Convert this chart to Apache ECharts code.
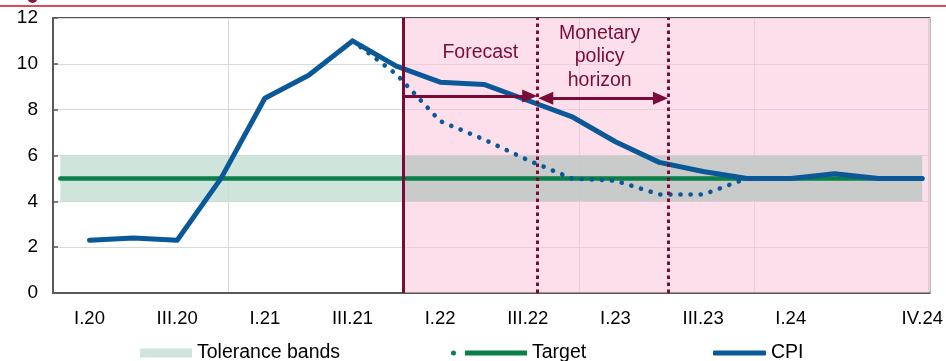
<!DOCTYPE html>
<html>
<head>
<meta charset="utf-8">
<script src="https://cdn.jsdelivr.net/npm/echarts@6/dist/echarts.min.js"></script>
<style>
  html, body { margin: 0; padding: 0; background: #ffffff; }
  #chart { width: 946px; height: 361px; }
</style>
</head>
<body>
<div id="chart"></div>
<script>
// Quarterly observations, placed on a monthly time line (end month of each quarter)
const quarters = ['I.20', 'II.20', 'III.20', 'IV.20',
                  'I.21', 'II.21', 'III.21', 'IV.21',
                  'I.22', 'II.22', 'III.22', 'IV.22',
                  'I.23', 'II.23', 'III.23', 'IV.23',
                  'I.24', 'II.24', 'III.24', 'IV.24'];

// CPI, annual percent change
const cpi = [2.3, 2.4, 2.3, 5.0,
             8.5, 9.5, 11.0, 9.9,
             9.2, 9.1, 8.4, 7.7,
             6.6, 5.7, 5.3, 5.0,
             5.0, 5.2, 5.0, 5.0];

// Earlier projected path (dotted)
const earlierPath = [null, null, null, null,
                     null, null, 11.0, 9.55,
                     7.5, 6.7, 5.8, 5.0,
                     4.9, 4.3, 4.3, 5.0,
                     null, null, null, null];

const targetLevel = 5;
const toleranceLow = 4;
const toleranceHigh = 6;

const tickLabels = ['I.20', 'III.20', 'I.21', 'III.21', 'I.22', 'III.22',
                    'I.23', 'III.23', 'I.24', 'IV.24'];

const forecastFrom = 'I.22';
const horizonFrom = 'IV.22';
const horizonTo = 'III.23';

// Month-based positioning helpers
const monthCount = quarters.length * 3;
const quarterPos = i => i * 3 + 2.5;          // centre of the quarter's last month
const quarterStart = q => quarters.indexOf(q) * 3;

const cpiData = cpi.map((v, i) => [quarterPos(i), v]);
const earlierData = earlierPath.map((v, i) => [quarterPos(i), v]).filter(p => p[1] !== null);
const firstMonth = 0.5, lastMonth = monthCount - 0.5;
const targetData = [[firstMonth, targetLevel], [lastMonth, targetLevel]];

const labelValues = tickLabels.map(l => quarterPos(quarters.indexOf(l)));
const labelByPos = {};
tickLabels.forEach((l, k) => { labelByPos[labelValues[k].toFixed(1)] = l; });

// horizon markers sit a few days into the quarter
const xForecast = quarterStart(forecastFrom);
const xHorizonA = quarterStart(horizonFrom) + 0.18;
const xHorizonB = quarterStart(horizonTo) + 0.13;

const DARK_RED = '#7a0b38';
const BLUE = '#0a5897';
const GREEN = '#0b7f48';
const FONT = "'Liberation Sans', Arial, sans-serif";

const chart = echarts.init(document.getElementById('chart'), null, { renderer: 'canvas' });

const legendText = { fontSize: 19.5, color: '#000', fontFamily: FONT };

chart.setOption({
  animation: false,
  textStyle: { fontFamily: FONT },
  grid: {
    left: 53, right: 16, top: 18, bottom: 68,
    show: true, borderColor: '#1a1a1a', borderWidth: 1.5, backgroundColor: 'transparent'
  },
  xAxis: {
    type: 'value',
    min: 0, max: monthCount, interval: 12,
    axisLine: { show: true, onZero: false, lineStyle: { color: '#595959', width: 2 } },
    axisTick: { show: false },
    splitLine: { show: true, lineStyle: { color: '#d9d9d9', width: 1 } },
    axisLabel: {
      customValues: labelValues,
      formatter: v => labelByPos[Number(v).toFixed(1)] || '',
      color: '#000', fontSize: 18.5, margin: 16, fontFamily: FONT
    }
  },
  yAxis: {
    type: 'value',
    min: 0, max: 12, interval: 2,
    axisLine: { show: true, lineStyle: { color: '#595959', width: 2 } },
    axisTick: { show: true, inside: true, length: 5, lineStyle: { color: '#595959', width: 1.5 } },
    splitLine: { show: true, lineStyle: { color: '#d9d9d9', width: 1 } },
    axisLabel: { color: '#000', fontSize: 19, margin: 15, fontFamily: FONT }
  },
  legend: [
    {
      data: [{ name: 'Tolerance bands', icon: 'rect' }],
      left: 140, top: 343, padding: 0, itemWidth: 52, itemHeight: 9, itemGap: 0,
      textStyle: legendText, selectedMode: false
    },
    {
      data: [{ name: 'Target',
               icon: 'path://M0,2.5A2.5,2.5,0,1,0,5,2.5A2.5,2.5,0,1,0,0,2.5ZM14,0L76,0L76,5L14,5Z' }],
      left: 451, top: 343, padding: 0, itemWidth: 76, itemHeight: 5, itemGap: 0,
      textStyle: legendText, selectedMode: false
    },
    {
      data: [{ name: 'CPI', icon: 'roundRect' }],
      left: 713, top: 343, padding: 0, itemWidth: 53, itemHeight: 5, itemGap: 0,
      textStyle: legendText, selectedMode: false
    }
  ],
  graphic: [
    { type: 'line', shape: { x1: 0, y1: 6, x2: 946, y2: 6 },
      style: { stroke: '#db4a63', lineWidth: 2.2 }, silent: true },
    { type: 'circle', shape: { cx: 32.5, cy: -2, r: 5 },
      style: { fill: '#8a1739' }, silent: true }
  ],
  series: [
    {
      // forecast period shading
      name: 'shade', type: 'line', data: [], silent: true,
      markArea: {
        silent: true, z: 1,
        itemStyle: { color: 'rgba(249,194,216,0.52)' },
        data: [[{ xAxis: xForecast, yAxis: 0 }, { xAxis: monthCount, yAxis: 12 }]]
      }
    },
    {
      name: 'Tolerance bands', type: 'line', data: [], silent: true,
      color: '#cfe5dc', itemStyle: { color: '#cfe5dc' },
      markArea: {
        silent: true, z: 1.2,
        data: [
          [{ xAxis: firstMonth, yAxis: toleranceLow, itemStyle: { color: 'rgba(195,222,211,0.8)' } },
           { xAxis: xForecast, yAxis: toleranceHigh }],
          [{ xAxis: xForecast, yAxis: toleranceLow, itemStyle: { color: 'rgba(192,200,195,0.85)' } },
           { xAxis: lastMonth, yAxis: toleranceHigh }]
        ]
      }
    },
    {
      name: 'Target', type: 'line', data: targetData,
      color: GREEN, itemStyle: { color: GREEN },
      symbol: 'none', silent: true, z: 3,
      lineStyle: { color: GREEN, width: 4.5, cap: 'round' }
    },
    {
      name: 'earlier', type: 'line', data: earlierData,
      color: BLUE, symbol: 'none', silent: true, z: 3,
      lineStyle: { color: BLUE, width: 4.6, type: [0.1, 10], cap: 'round', join: 'round' }
    },
    {
      name: 'CPI', type: 'line', data: cpiData,
      color: BLUE, itemStyle: { color: BLUE },
      symbol: 'none', silent: true, z: 4,
      lineStyle: { color: BLUE, width: 5, cap: 'round', join: 'round' }
    },
    {
      // period markers, arrows and annotations
      name: 'annotations', type: 'line', data: [], silent: true,
      markLine: {
        silent: true, z: 6,
        symbol: ['none', 'none'],
        label: { show: false },
        data: [
          { xAxis: xForecast, lineStyle: { color: DARK_RED, width: 3, type: 'solid' } },
          { xAxis: xHorizonA, lineStyle: { color: DARK_RED, width: 3, type: [3.5, 3.5] } },
          { xAxis: xHorizonB, lineStyle: { color: DARK_RED, width: 3, type: [3.5, 3.5] } },
          [
            { coord: [xForecast, 8.6], symbol: 'none' },
            { coord: [xHorizonA - 0.55, 8.6], symbol: 'triangle', symbolSize: [13, 15],
              lineStyle: { color: DARK_RED, width: 3, type: 'solid' } }
          ],
          [
            { coord: [xHorizonA + 0.55, 8.5], symbol: 'triangle', symbolSize: [13, 15] },
            { coord: [xHorizonB - 0.55, 8.5], symbol: 'triangle', symbolSize: [13, 15],
              lineStyle: { color: DARK_RED, width: 3, type: 'solid' } }
          ]
        ],
        lineStyle: { color: DARK_RED, width: 3, type: 'solid' },
        itemStyle: { color: DARK_RED }
      },
      markPoint: {
        silent: true, z: 6,
        symbol: 'circle', symbolSize: 0,
        data: [
          { coord: [29.25, 10.47],
            label: { show: true, position: 'inside', formatter: 'Forecast',
                     color: DARK_RED, fontSize: 19.5, fontFamily: FONT } },
          { coord: [37.42, 10.3],
            label: { show: true, position: 'inside', formatter: 'Monetary\npolicy\nhorizon',
                     color: DARK_RED, fontSize: 19.5, lineHeight: 23.5, align: 'center',
                     fontFamily: FONT } }
        ]
      }
    }
  ]
});
</script>
</body>
</html>
